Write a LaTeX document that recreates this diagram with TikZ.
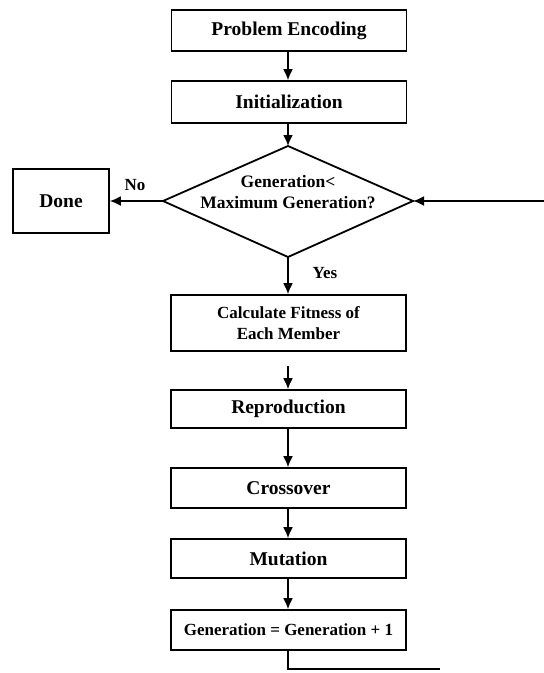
\documentclass[tikz,border=0pt]{standalone}
\usepackage{fontspec}
\setmainfont{Liberation Serif}
\usetikzlibrary{arrows.meta}
\begin{document}
\begin{tikzpicture}[x=1pt,y=-1pt,
  box/.style={draw=black,line width=1.6pt,rectangle,inner sep=0pt,minimum width=235pt,align=center,font=\bfseries\fontsize{19.5}{22}\selectfont},
  smallbox/.style={box,font=\bfseries\fontsize{17}{21}\selectfont},
  lbl/.style={inner sep=0pt,font=\bfseries\fontsize{17}{20}\selectfont},
  conn/.style={line width=1.8pt,-{Latex[length=11pt,width=10pt]}},
  plain/.style={line width=1.8pt}]
\useasboundingbox (0,0) rectangle (544,673);
% boxes
\node[box,minimum height=41pt] (pe) at (289,30.5) {Problem Encoding};
\node[box,minimum height=42pt] (init) at (289,102) {Initialization};
% diamond
\coordinate (dT) at (288,146);
\coordinate (dB) at (288,257);
\coordinate (dL) at (163,201);
\coordinate (dR) at (413,201);
\draw[line width=1.8pt,line join=miter] (dT) -- (dR) -- (dB) -- (dL) -- cycle;
\node[lbl,align=center,font=\bfseries\fontsize{17.5}{21}\selectfont] (dtext) at (288,192) {Generation<\\Maximum Generation?};
\node[box,minimum width=96pt,minimum height=64pt] (done) at (61,201) {Done};
\node[smallbox,minimum height=56pt] (calc) at (288.5,323) {Calculate Fitness of\\Each Member};
\node[box,minimum height=38pt] (repro) at (288.5,409) {Reproduction};
\node[box,minimum height=40pt] (cross) at (288.5,488) {Crossover};
\node[box,minimum height=39pt] (mut) at (288.5,558.5) {Mutation};
\node[smallbox,minimum height=40pt] (gen) at (288.5,630) {Generation = Generation + 1};
% labels
\node[lbl] (no) at (135,185) {No};
\node[lbl] (yes) at (325,273) {Yes};
% connectors
\coordinate (rin) at (544,201);
\coordinate (cstart) at (288,366);
\coordinate (bcorner) at (288,669);
\coordinate (bend) at (440,669);
\draw[conn] (pe.south -| dT) -- (init.north -| dT);
\draw[conn] (init.south -| dT) -- (dT);
\draw[conn] (dB) -- (calc.north -| dB);
\draw[conn] (dL) -- (done.east);
\draw[conn] (rin) -- (dR);
\draw[conn] (cstart) -- (repro.north -| cstart);
\draw[conn] (repro.south -| dT) -- (cross.north -| dT);
\draw[conn] (cross.south -| dT) -- (mut.north -| dT);
\draw[conn] (mut.south -| dT) -- (gen.north -| dT);
\draw[plain] (gen.south -| dT) -- (bcorner) -- (bend);
\end{tikzpicture}
\end{document}
